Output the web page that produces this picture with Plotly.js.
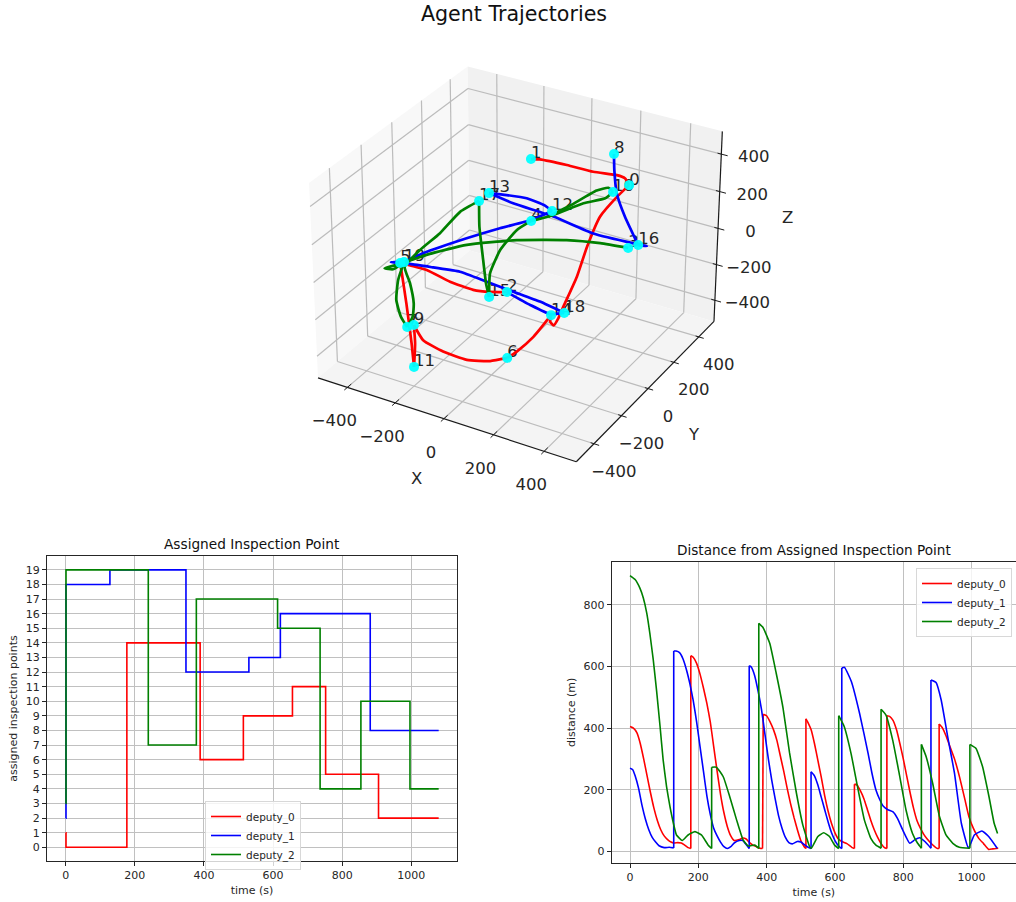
<!DOCTYPE html>
<html>
<head>
<meta charset="utf-8">
<script src="https://cdn.plot.ly/plotly-3.0.1.min.js"></script>
<style>html,body{margin:0;padding:0;background:#fff;overflow:hidden}</style>
</head>
<body>
<div id="chart" style="width:1016px;height:902px"></div>
<script>
// Inspection points
const pointIds = [0,1,2,3,4,5,6,7,8,9,10,11,12,13,14,15,16,17,18,19];
const pointX = [249,-231,218,211,198,-247,218,-241,154,-173,311,-163,236,4,359,163,260,-12,392,-225];
const pointY = [352,485,-462,430,-264,-397,-461,-372,412,-434,111,-455,-188,-215,-410,-486,414,-255,-379,-406];
const pointZ = [243,134,199,-164,425,126,-146,-232,340,-150,379,-358,441,466,100,168,-119,445,103,145];

// Agent trajectories in 3D
const redX = [-231,-196,-72,54,157,203,249,241,245,292,348,386,399,402,377,359,340,278,218,177,104,6,-92,-173,-178,-163,-176,-225,-251,-247,-133,-12,97,163,218];
const redY = [485,489,472,443,432,407,352,277,143,-38,-212,-374,-432,-469,-448,-410,-496,-500,-461,-506,-538,-532,-503,-434,-421,-455,-447,-398,-382,-397,-407,-451,-480,-480,-462];
const redZ = [134,142,165,190,215,230,243,225,205,180,160,130,115,105,100,100,40,-60,-146,-147,-148,-149,-150,-150,-260,-358,-240,-80,60,126,140,155,175,190,199];
const blueX = [218,303,368,392,288,181,73,-36,-126,-204,-265,-225,-179,-44,67,178,236,199,124,59,4,59,132,216,275,296,260,211,174,153,154];
const blueY = [-462,-453,-433,-379,-361,-357,-350,-347,-376,-401,-427,-406,-355,-287,-250,-229,-188,-171,-166,-190,-215,-146,8,149,347,413,414,398,402,419,412];
const blueZ = [199,160,125,103,108,115,120,128,135,140,143,145,175,260,330,400,441,445,452,460,466,390,250,100,-60,-110,-119,30,140,250,340];
const greenX = [211,133,54,-62,-158,-209,-234,-257,-228,-225,-238,-254,-255,-241,-233,-237,-246,-252,-204,-142,-89,-12,36,95,135,163,120,123,157,198,236,275,313,311,282,261,240,224];
const greenY = [430,358,247,87,-99,-286,-419,-480,-472,-406,-426,-417,-389,-372,-347,-332,-339,-361,-335,-302,-254,-255,-334,-412,-459,-486,-407,-343,-291,-264,-178,-37,50,111,131,84,-68,-192];
const greenZ = [-164,-120,-60,0,60,110,140,150,150,145,60,-60,-170,-232,-190,-130,-20,80,170,260,360,445,380,300,210,168,220,300,380,425,415,400,385,379,378,385,395,410];

// Assigned inspection point (step changes)
const assignT0 = [0,1,177,389,514,656,752,905,1079];
const assignV0 = [1,0,14,6,9,11,5,2,2];
const assignT1 = [0,1,128,348,530,621,881,1079];
const assignV1 = [2,18,19,12,13,16,8,8];
const assignT2 = [0,1,239,378,613,736,854,996,1079];
const assignV2 = [3,19,7,17,15,4,10,4,4];

// Distance from assigned point
const distT0 = [0,10,20,30,40,50,60,70,80,90,100,110,120,128,140,150,160,170,178,178,185,195,205,215,225,235,245,255,265,275,285,295,305,320,330,340,350,360,370,380,388,390,400,410,420,430,440,450,460,470,480,490,500,510,515,515,520,530,540,550,560,570,580,590,600,610,620,635,650,657,657,665,675,685,695,705,715,725,735,745,752,752,760,770,780,790,800,810,820,830,840,850,860,870,885,900,905,905,915,925,935,950,965,980,992,1005,1021,1035,1050,1062,1078];
const distV0 = [405,400,385,350,300,245,190,140,100,70,50,38,30,27,28,27,20,12,9,635,630,610,575,530,480,420,340,260,185,125,80,50,35,38,43,40,28,20,15,10,9,445,440,420,395,360,310,260,205,155,110,70,35,15,9,430,420,395,350,295,240,180,130,90,60,40,32,25,12,9,218,215,195,170,135,100,70,45,25,12,9,440,438,425,395,350,300,245,190,140,100,75,55,40,22,9,9,413,400,375,345,300,240,170,113,75,42,25,6,8,10];
const distT1 = [0,8,15,25,35,45,55,65,75,85,100,115,128,128,135,145,155,165,175,185,195,205,215,225,235,245,255,265,275,285,295,305,320,330,340,349,349,355,365,375,385,395,405,415,425,435,445,455,465,475,490,500,510,520,530,530,540,550,560,570,580,590,600,610,620,620,628,648,672,697,708,720,731,741,755,770,783,798,819,833,848,864,881,881,896,911,930,950,970,991,1008,1030,1050,1075];
const distV1 = [270,265,245,205,150,105,70,45,30,18,12,13,11,650,650,645,625,590,545,490,420,340,260,180,120,75,50,30,15,9,15,27,35,35,22,9,602,598,570,520,460,380,300,230,170,115,75,45,28,24,32,30,22,14,9,258,245,215,175,135,95,60,35,18,9,595,597,551,448,318,255,199,168,147,135,128,107,70,26,37,44,31,10,556,548,491,372,253,91,10,53,66,48,10];
const distT2 = [0,15,29,39,49,58,68,78,88,97,107,117,127,136,153,170,190,209,229,239,239,253,273,292,312,331,346,365,377,377,389,409,428,448,467,487,506,526,531,550,567,584,599,611,611,627,647,666,686,705,720,735,735,749,769,788,808,827,842,853,853,867,886,906,925,945,964,995,995,1013,1032,1051,1066,1076];
const distV2 = [895,882,854,822,773,708,622,519,405,297,210,145,91,53,35,53,64,53,20,9,273,273,242,177,102,37,17,20,9,740,727,675,578,465,320,190,85,15,10,48,60,48,20,9,440,405,318,210,102,42,20,10,461,443,361,253,134,58,26,10,347,307,221,113,53,26,13,10,347,334,275,177,91,58];

const seriesNames = ['deputy_0','deputy_1','deputy_2'];
const seriesColors = ['#ff0000','#0000ff','#008000'];
const sceneTicks = [-400,-200,0,200,400];
const assignTicks = [0,1,2,3,4,5,6,7,8,9,10,11,12,13,14,15,16,17,18,19];

const W = 1016, H = 902;
const FONT = '"DejaVu Sans", sans-serif';
const INK = '#262626';

// ---- perspective projection of the 3D box (elev 30, azim -60, box 4:4:3, dist 10)
const LIM_XY = 525, LIM_Z = 520, HALF_XY = 0.5714, HALF_Z = 0.4286, DIST = 10;
const SCALE = 2590, CX = 519.5, CY = 255;
function project(X, Y, Z) {
  const a = X / LIM_XY * HALF_XY, b = Y / LIM_XY * HALF_XY, c = Z / LIM_Z * HALF_Z;
  const xv = 0.8660254 * a + 0.5 * b;
  const yv = -0.25 * a + 0.4330127 * b + 0.8660254 * c;
  const d = DIST - (0.4330127 * a - 0.75 * b + 0.5 * c);
  return [xv / d, yv / d];
}
function polyline(pts) {
  const x = [], y = [];
  pts.forEach(p => { if (!p) { x.push(null); y.push(null); } else { const q = project(p[0], p[1], p[2]); x.push(q[0]); y.push(q[1]); } });
  return {x, y};
}
function segments(list) { const out = []; list.forEach(s => { out.push(s[0], s[1], null); }); return polyline(out); }

const traces = [];
const A3 = {xaxis:'x3', yaxis:'y3', showlegend:false, hoverinfo:'skip', cliponaxis:false};
const L = LIM_XY, LZ = LIM_Z;

// panes
[
  {c:'#f8f8f8', p:[[-L,-L,-LZ],[-L,L,-LZ],[-L,L,LZ],[-L,-L,LZ],[-L,-L,-LZ]]},
  {c:'#f1f1f1', p:[[-L,L,-LZ],[L,L,-LZ],[L,L,LZ],[-L,L,LZ],[-L,L,-LZ]]},
  {c:'#f4f4f4', p:[[-L,-L,-LZ],[L,-L,-LZ],[L,L,-LZ],[-L,L,-LZ],[-L,-L,-LZ]]}
].forEach(pane => {
  const q = polyline(pane.p);
  traces.push(Object.assign({type:'scatter', mode:'lines', x:q.x, y:q.y, fill:'toself', fillcolor:pane.c, line:{width:0, color:pane.c}}, A3));
});

// grid lines
const gridSegs = [];
sceneTicks.forEach(t => {
  gridSegs.push([[t,-L,-LZ],[t,L,-LZ]], [[t,L,-LZ],[t,L,LZ]]);
  gridSegs.push([[-L,t,-LZ],[L,t,-LZ]], [[-L,t,-LZ],[-L,t,LZ]]);
  gridSegs.push([[-L,-L,t],[-L,L,t]], [[-L,L,t],[L,L,t]]);
});
const gridXY = segments(gridSegs);
traces.push(Object.assign({type:'scatter', mode:'lines', x:gridXY.x, y:gridXY.y, line:{color:'#bcbcbc', width:1.2}}, A3));

// axis lines + tick marks
const axisXY = segments([[[-L,-L,-LZ],[L,-L,-LZ]], [[L,-L,-LZ],[L,L,-LZ]], [[L,L,-LZ],[L,L,LZ]]]);
traces.push(Object.assign({type:'scatter', mode:'lines', x:axisXY.x, y:axisXY.y, line:{color:'#1a1a1a', width:1.2}}, A3));
const tickSegs = [];
sceneTicks.forEach(t => {
  tickSegs.push([[t,-L-20,-LZ],[t,-L+25,-LZ]]);
  tickSegs.push([[L+20,t,-LZ],[L-13,t,-LZ]]);
  tickSegs.push([[L+25,L,t],[L-15,L,t]]);
});
const tickXY = segments(tickSegs);
traces.push(Object.assign({type:'scatter', mode:'lines', x:tickXY.x, y:tickXY.y, line:{color:'#1a1a1a', width:1}}, A3));

// tick labels
const fmt = v => String(v).replace('-', '\u2212');
const labelX = [], labelY = [], labelT = [];
function addTickLabel(p, dx, dy, v) { const q = project(p[0], p[1], p[2]); labelX.push(q[0] + dx / SCALE); labelY.push(q[1] - dy / SCALE); labelT.push(fmt(v)); }
sceneTicks.forEach(t => {
  addTickLabel([t,-L,-LZ], -13, 35, t);
  addTickLabel([L,t,-LZ], 20, 29, t);
  addTickLabel([L,L,t], 32.5, 4, t);
});
traces.push(Object.assign({type:'scatter', mode:'text', x:labelX, y:labelY, text:labelT, textposition:'middle center',
  textfont:{family:FONT, size:16.5, color:INK}}, A3));

// point labels (under the curves and markers)
const pointXY = polyline(pointX.map((v, i) => [v, pointY[i], pointZ[i]]));
traces.push(Object.assign({type:'scatter', mode:'text', x:pointXY.x, y:pointXY.y.map(v => v - 3.5 / SCALE), text:pointIds.map(String), textposition:'top right',
  textfont:{family:FONT, size:16.5, color:INK}}, A3));

// trajectories, split at inspection points so every leg is a smooth curve
const pointKeys = new Set(pointX.map((v, i) => v + ',' + pointY[i] + ',' + pointZ[i]));
[[redX,redY,redZ],[blueX,blueY,blueZ],[greenX,greenY,greenZ]].forEach((s, si) => {
  let leg = [];
  s[0].forEach((v, i) => {
    const p = [v, s[1][i], s[2][i]];
    leg.push(p);
    const isEnd = i === s[0].length - 1;
    if (leg.length > 1 && (isEnd || pointKeys.has(p.join(',')))) {
      const q = polyline(leg);
      traces.push(Object.assign({type:'scatter', mode:'lines', x:q.x, y:q.y, line:{color:seriesColors[si], width:2.7, shape:'spline', smoothing:0.5}}, A3));
      leg = [p];
    }
  });
});

// inspection point markers
traces.push(Object.assign({type:'scatter', mode:'markers', x:pointXY.x, y:pointXY.y,
  marker:{size:10, color:'#00ffff', opacity:0.95, line:{width:0}}}, A3));

// ---- assigned inspection point panel
[[assignT0,assignV0],[assignT1,assignV1],[assignT2,assignV2]].forEach((p, i) => {
  traces.push({type:'scatter', mode:'lines', x:p[0], y:p[1], name:seriesNames[i], xaxis:'x', yaxis:'y', legend:'legend',
    line:{color:seriesColors[i], width:1.6, shape:'hv'}});
});

// ---- distance panel: smooth decays, vertical jumps at each reassignment
[[distT0,distV0],[distT1,distV1],[distT2,distV2]].forEach((p, i) => {
  const t = p[0], v = p[1];
  let st = [], sv = [], first = true;
  const jx = [], jy = [];
  const flush = () => {
    traces.push({type:'scatter', mode:'lines', x:st, y:sv, name:seriesNames[i], legendgroup:seriesNames[i], xaxis:'x2', yaxis:'y2', legend:'legend2',
      showlegend:first, line:{color:seriesColors[i], width:1.6, shape:'spline', smoothing:0.4}});
    first = false;
  };
  t.forEach((tv, k) => {
    if (k > 0 && (tv === t[k-1] || tv - t[k-1] <= 2 && Math.abs(v[k] - v[k-1]) > 100)) {
      flush(); st = []; sv = [];
      jx.push(t[k-1], tv, null); jy.push(v[k-1], v[k], null);
    }
    st.push(tv); sv.push(v[k]);
  });
  flush();
  traces.push({type:'scatter', mode:'lines', x:jx, y:jy, xaxis:'x2', yaxis:'y2', showlegend:false, legend:'legend2', legendgroup:seriesNames[i],
    line:{color:seriesColors[i], width:1.6}});
});

const axis2d = (domain, range, dtick, title, extra) => Object.assign({
  domain, range, dtick, title:{text:title, font:{family:FONT, size:11, color:INK}, standoff:5},
  tickfont:{family:FONT, size:11, color:INK}, ticks:'outside', ticklen:4, tickcolor:INK, tickwidth:1,
  showline:true, mirror:true, linecolor:INK, linewidth:1,
  showgrid:true, gridcolor:'#c0c0c0', gridwidth:1, zeroline:false, automargin:false
}, extra || {});

const legendBase = {font:{family:FONT, size:10.5, color:INK}, bgcolor:'rgba(255,255,255,0.8)', bordercolor:'#d8d8d8', borderwidth:1,
  xanchor:'left', yanchor:'top', itemwidth:30, tracegroupgap:0, traceorder:'normal'};
const titleFont = size => ({family:FONT, size, color:'#111'});

const layout = {
  width:W, height:H, margin:{l:0, r:0, t:0, b:0}, paper_bgcolor:'#fff', plot_bgcolor:'rgba(0,0,0,0)',
  font:{family:FONT, color:INK},
  title:{text:'Agent Trajectories', font:titleFont(20.6), x:514/W, xanchor:'center', y:1-14/H, yanchor:'middle'},
  xaxis:axis2d([47/W,457/W], [-54,1132], 200, 'time (s)', {anchor:'y'}),
  yaxis:axis2d([1-861/H,1-556/H], [-0.94,19.95], 1, 'assigned inspection points', {anchor:'x', tickvals:assignTicks}),
  xaxis2:axis2d([611.7/W,1], [-53.6,1130], 200, 'time (s)', {anchor:'y2'}),
  yaxis2:axis2d([1-862.7/H,1-562/H], [-37,939], 200, 'distance (m)', {anchor:'x2'}),
  xaxis3:{domain:[0,1], range:[-CX/SCALE,(W-CX)/SCALE], visible:false, anchor:'y3', fixedrange:true},
  yaxis3:{domain:[0,1], range:[(CY-H)/SCALE,CY/SCALE], visible:false, anchor:'x3', fixedrange:true},
  legend:Object.assign({}, legendBase, {x:205/W, y:1-801/H}),
  legend2:Object.assign({}, legendBase, {x:916/W, y:1-568/H}),
  annotations:[
    {text:'Assigned Inspection Point', xref:'paper', yref:'paper', x:252/W, y:1-544/H, xanchor:'center', yanchor:'middle', showarrow:false, font:titleFont(13.7)},
    {text:'Distance from Assigned Inspection Point', xref:'paper', yref:'paper', x:814/W, y:1-550/H, xanchor:'center', yanchor:'middle', showarrow:false, font:titleFont(13.6)},
    {text:'X', xref:'paper', yref:'paper', x:416/W, y:1-478/H, xanchor:'center', yanchor:'middle', showarrow:false, font:{family:FONT, size:16.5, color:INK}},
    {text:'Y', xref:'paper', yref:'paper', x:694/W, y:1-435/H, xanchor:'center', yanchor:'middle', showarrow:false, font:{family:FONT, size:16.5, color:INK}},
    {text:'Z', xref:'paper', yref:'paper', x:787/W, y:1-217/H, xanchor:'center', yanchor:'middle', showarrow:false, font:{family:FONT, size:16.5, color:INK}}
  ]
};
Plotly.newPlot('chart', traces, layout, {displayModeBar:false, staticPlot:true});
</script>
</body>
</html>
